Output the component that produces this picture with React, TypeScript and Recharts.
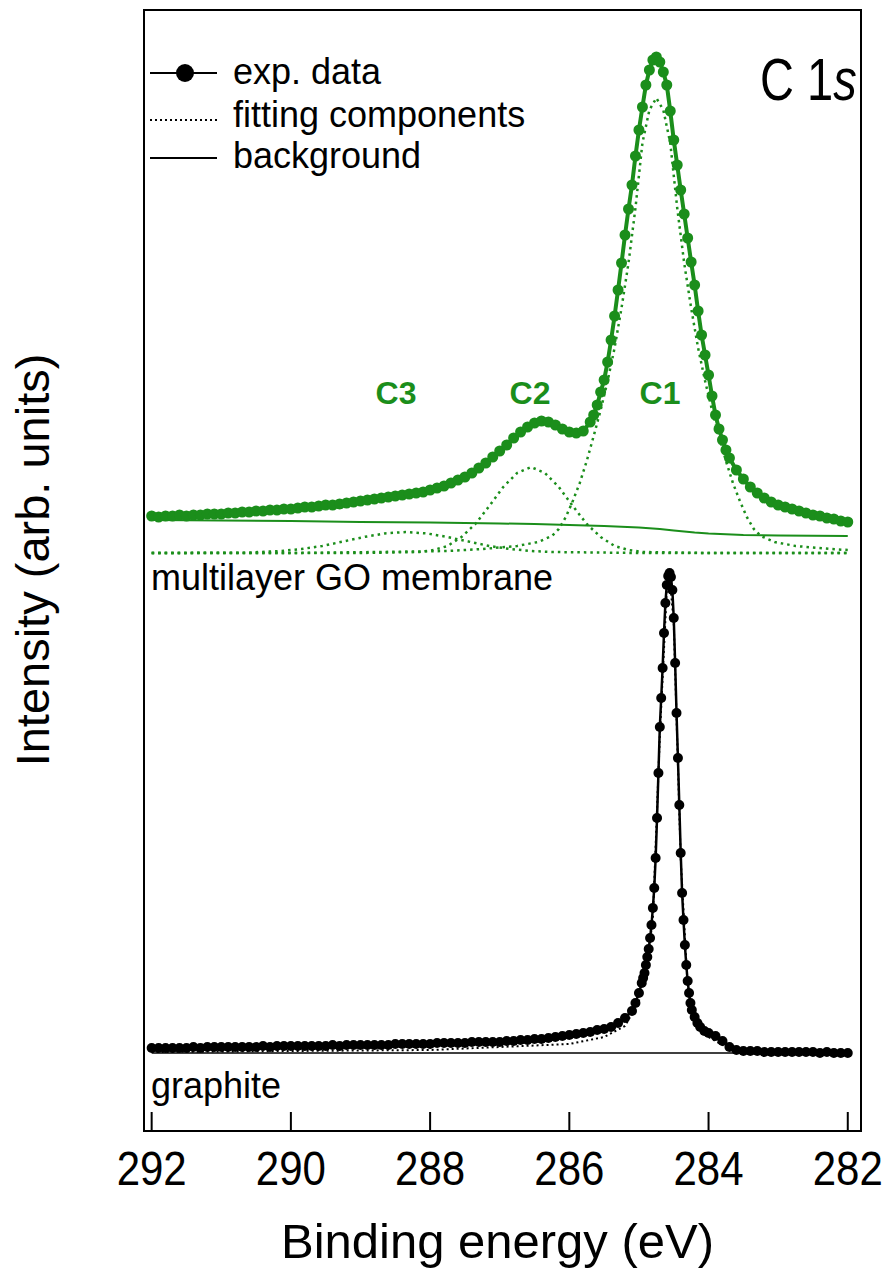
import React from "react";
import { ComposedChart, Line, XAxis, YAxis, Label, ReferenceArea } from "recharts";

// C 1s XPS spectra: multilayer GO membrane (green, offset) and graphite (black)
const GREEN = "#1b8e1b";
const FONT = "'Liberation Sans', Arial, Helvetica, sans-serif";

const xTicks = [292, 290, 288, 286, 284, 282];

// GO membrane, exp. data
const goEnergy = [
  292.0, 291.9, 291.8, 291.7, 291.6, 291.5, 291.4, 291.3, 291.2, 291.1,
  291.0, 290.9, 290.8, 290.7, 290.6, 290.5, 290.4, 290.3, 290.2, 290.1,
  290.0, 289.9, 289.8, 289.7, 289.6, 289.5, 289.4, 289.3, 289.2, 289.1,
  289.0, 288.9, 288.8, 288.7, 288.6, 288.5, 288.4, 288.3, 288.2, 288.1,
  288.0, 287.9, 287.8, 287.7, 287.6, 287.5, 287.4, 287.3, 287.2, 287.1,
  287.0, 286.9, 286.8, 286.7, 286.6, 286.5, 286.4, 286.3, 286.2, 286.1,
  286.0, 285.9, 285.8, 285.7, 285.65, 285.6, 285.55, 285.5, 285.45, 285.4,
  285.35, 285.3, 285.25, 285.2, 285.15, 285.1, 285.05, 285.0, 284.95, 284.9,
  284.85, 284.8, 284.75, 284.7, 284.65, 284.6, 284.55, 284.5, 284.45, 284.4,
  284.35, 284.3, 284.25, 284.2, 284.15, 284.1, 284.05, 284.0, 283.95, 283.9,
  283.85, 283.8, 283.75, 283.7, 283.6, 283.5, 283.4, 283.3, 283.2, 283.1,
  283.0, 282.9, 282.8, 282.7, 282.6, 282.5, 282.4, 282.3, 282.2, 282.1,
  282.0,
];
const goIntensity = [
  615, 614, 615, 615, 616, 615, 616, 616, 617, 617,
  617, 618, 618, 619, 619, 620, 620, 621, 621, 622,
  622, 623, 624, 624, 625, 626, 626, 627, 628, 629,
  630, 631, 632, 633, 634, 635, 636, 637, 638, 639,
  641, 643, 645, 648, 651, 654, 658, 663, 668, 674,
  680, 686, 693, 699, 704, 708, 710, 709, 706, 702,
  699, 698, 700, 709, 716, 726, 739, 751, 769, 791,
  815, 841, 868, 896, 922, 946, 975, 1001, 1024, 1046,
  1061, 1071, 1074, 1069, 1059, 1046, 1020, 991, 966, 941,
  917, 893, 869, 846, 820, 796, 776, 756, 735, 716,
  702, 691, 681, 673, 661, 652, 644, 638, 633, 629,
  626, 624, 622, 620, 618, 616, 615, 613, 612, 610,
  609,
];

// GO membrane, background
const goBgEnergy = [292, 291, 290, 289, 288, 287, 286.5, 286, 285.5, 285, 284.7, 284.5, 284.2, 284, 283.5, 283, 282];
const goBgIntensity = [611, 610.5, 610, 609, 608.5, 607.5, 607, 606, 605, 603.5, 602, 600.5, 598.5, 597.5, 596, 595.5, 595];

// GO membrane, fitting components
const c1Energy = [
  292, 290, 288.75, 287.75, 287.25, 286.75, 286.45, 286.25, 286.15, 286.05,
  285.95, 285.85, 285.75, 285.65, 285.55, 285.45, 285.35, 285.25, 285.15, 285.05,
  284.95, 284.85, 284.75, 284.65, 284.55, 284.45, 284.35, 284.25, 284.15, 284.05,
  283.95, 283.85, 283.75, 283.65, 283.55, 283.45, 283.35, 283.25, 283.05, 282.75,
  282.25, 282,
];
const c1Intensity = [
  578, 578, 579, 580, 582, 585, 589, 595, 602, 614,
  630, 648, 670, 695, 721, 750, 783, 823, 868, 923,
  988, 1021, 1033, 1021, 988, 923, 868, 823, 783, 750,
  721, 695, 670, 648, 630, 614, 602, 595, 589, 585,
  582, 581,
];
const c2Energy = [292, 289, 288.15, 287.95, 287.75, 287.55, 287.35, 287.15, 286.95, 286.75, 286.55, 286.35, 286.15, 285.95, 285.75, 285.55, 285.35, 285.15, 284.95, 284, 282];
const c2Intensity = [578, 578, 579, 581, 585, 594, 607, 625, 644, 658, 664, 658, 644, 625, 607, 594, 585, 581, 579, 578, 578];
const c3Energy = [292, 290.6, 290.45, 290.15, 289.85, 289.55, 289.25, 288.95, 288.65, 288.35, 288.05, 287.75, 287.45, 287.15, 286.85, 286.55, 286.25, 285, 282];
const c3Intensity = [578, 578.3, 579, 580, 582, 585, 589.5, 594, 597.6, 599, 597.6, 594, 589.5, 585, 582, 580, 579, 578, 578];

// graphite, exp. data
const grEnergy = [
  292.0, 291.9, 291.8, 291.7, 291.6, 291.5, 291.4, 291.3, 291.2, 291.1,
  291.0, 290.9, 290.8, 290.7, 290.6, 290.5, 290.4, 290.3, 290.2, 290.1,
  290.0, 289.9, 289.8, 289.7, 289.6, 289.5, 289.4, 289.3, 289.2, 289.1,
  289.0, 288.9, 288.8, 288.7, 288.6, 288.5, 288.4, 288.3, 288.2, 288.1,
  288.0, 287.9, 287.8, 287.7, 287.6, 287.5, 287.4, 287.3, 287.2, 287.1,
  287.0, 286.9, 286.8, 286.7, 286.6, 286.5, 286.4, 286.3, 286.2, 286.1,
  286.0, 285.9, 285.8, 285.7, 285.6, 285.5, 285.4, 285.3, 285.2, 285.1,
  285.05, 285.0,
  284.96, 284.94, 284.92, 284.9, 284.88, 284.86, 284.84, 284.82, 284.8, 284.78,
  284.76, 284.74, 284.72, 284.7, 284.68, 284.66, 284.64, 284.62, 284.6, 284.58,
  284.56, 284.54, 284.52, 284.5, 284.48, 284.46, 284.44, 284.42, 284.4, 284.38,
  284.36, 284.34, 284.32, 284.3, 284.28, 284.26, 284.24, 284.2, 284.16, 284.12,
  284.06, 284.0, 283.9, 283.8, 283.7, 283.6, 283.5, 283.4, 283.3, 283.2,
  283.1, 283.0, 282.9, 282.8, 282.7, 282.6, 282.5, 282.4, 282.3, 282.2,
  282.1, 282.0,
];
const grIntensity = [
  83, 83, 83, 83, 83, 83, 84, 83, 84, 84,
  84, 84, 84, 84, 84, 84, 85, 84, 85, 85,
  85, 85, 85, 85, 85, 85, 86, 85, 86, 86,
  86, 86, 86, 86, 86, 87, 87, 87, 87, 87,
  87, 88, 88, 88, 88, 88, 89, 89, 89, 89,
  89, 90, 90, 91, 91, 92, 92, 93, 94, 95,
  96, 97, 98, 99, 101, 102, 104, 108, 113, 120,
  128, 138,
  148, 153, 158, 166, 174, 182, 193, 206, 223, 243,
  273, 313, 358, 404, 433, 463, 498, 528, 546, 555,
  558, 554, 541, 513, 468, 418, 373, 326, 278, 238,
  211, 186, 166, 150, 138, 128, 121, 114, 108, 104,
  100, 98, 95, 90, 84, 81, 80, 80, 80, 79,
  79, 79, 79, 79, 79, 79, 79, 78, 79, 78,
  78, 78,
];

// graphite, fitting component and background
const grFitEnergy = [292, 288, 286, 285.5, 285.2, 285.0, 284.9, 284.8, 284.7, 284.6, 284.56, 284.5, 284.4, 284.3, 284.2, 284.0, 283.8, 283.5, 282];
const grFitIntensity = [79, 81, 87, 94, 105, 130, 158, 212, 395, 540, 555, 508, 272, 144, 110, 94, 86, 79, 78];
const grBgEnergy = [292, 282];
const grBgIntensity = [78, 78];

const pts = (es: number[], vs: number[]) => es.map((e, i) => ({ e, v: vs[i] }));

const X_DOMAIN: [number, number] = [281.81, 292.11];
const Y_DOMAIN: [number, number] = [0, 1121];

// tick label, slightly taller than plain Arial like the original figure
const EnergyTick = ({ x, y, payload }: any) => (
  <text transform={`translate(${x}, ${y}) scale(1, 1.13)`} textAnchor="middle" dy="0.71em"
    fontSize={42} fontFamily={FONT} fill="#000">
    {payload.value}
  </text>
);

export default function App() {
  const frame = { stroke: "#000", strokeWidth: 2 };
  const dash = "2.5 4";
  return (
    <div style={{ position: "absolute", left: 0, top: 0, width: 884, height: 1275, background: "#fff" }}>
      <ComposedChart width={884} height={1275} margin={{ top: 10, right: 23, bottom: 0, left: 144 }}>
        <XAxis
          xAxisId="b"
          dataKey="e"
          type="number"
          domain={X_DOMAIN}
          reversed
          allowDataOverflow
          ticks={xTicks}
          height={144}
          tickSize={-19}
          tickMargin={39}
          tickLine={frame}
          axisLine={frame}
          tick={<EnergyTick />}
        >
          <Label value="Binding energy (eV)" position="insideBottom" offset={17} dx={-5}
            style={{ fontSize: 49, fontFamily: FONT, fill: "#000" }} />
        </XAxis>
        <YAxis yAxisId="l" type="number" domain={Y_DOMAIN} width={0} hide />

        {/* plot frame */}
        <ReferenceArea xAxisId="b" yAxisId="l" x1={X_DOMAIN[0]} x2={X_DOMAIN[1]} y1={Y_DOMAIN[0]} y2={Y_DOMAIN[1]}
          fill="none" fillOpacity={0} stroke="#000" strokeWidth={2} ifOverflow="visible" />

        {/* GO membrane */}
        <Line xAxisId="b" yAxisId="l" data={pts(c3Energy, c3Intensity)} dataKey="v" type="linear" stroke={GREEN}
          strokeWidth={2.5} strokeDasharray={dash} dot={false} isAnimationActive={false} />
        <Line xAxisId="b" yAxisId="l" data={pts(c2Energy, c2Intensity)} dataKey="v" type="linear" stroke={GREEN}
          strokeWidth={2.5} strokeDasharray={dash} dot={false} isAnimationActive={false} />
        <Line xAxisId="b" yAxisId="l" data={pts(c1Energy, c1Intensity)} dataKey="v" type="linear" stroke={GREEN}
          strokeWidth={2.5} strokeDasharray={dash} dot={false} isAnimationActive={false} />
        <Line xAxisId="b" yAxisId="l" data={pts(goBgEnergy, goBgIntensity)} dataKey="v" type="linear" stroke={GREEN}
          strokeWidth={2} dot={false} isAnimationActive={false} />
        <Line xAxisId="b" yAxisId="l" data={pts(goEnergy, goIntensity)} dataKey="v" type="linear" stroke={GREEN}
          strokeWidth={4} dot={{ r: 5.5, fill: GREEN, stroke: GREEN, strokeWidth: 0 }} isAnimationActive={false} />

        {/* graphite */}
        <Line xAxisId="b" yAxisId="l" data={pts(grBgEnergy, grBgIntensity)} dataKey="v" type="linear" stroke="#000"
          strokeWidth={1.5} dot={false} isAnimationActive={false} />
        <Line xAxisId="b" yAxisId="l" data={pts(grFitEnergy, grFitIntensity)} dataKey="v" type="linear" stroke="#000"
          strokeWidth={2} strokeDasharray="2 3" dot={false} isAnimationActive={false} />
        <Line xAxisId="b" yAxisId="l" data={pts(grEnergy, grIntensity)} dataKey="v" type="linear" stroke="#000"
          strokeWidth={2.5} dot={{ r: 5, fill: "#000", stroke: "#000", strokeWidth: 0 }} isAnimationActive={false} />
      </ComposedChart>

      <svg width={884} height={1275} style={{ position: "absolute", left: 0, top: 0, pointerEvents: "none" }}
        fontFamily={FONT}>
        <text x={49} y={560} fontSize={47} textAnchor="middle" transform="rotate(-90, 49, 560)">Intensity (arb. units)</text>

        {/* legend */}
        <line x1={150} y1={73} x2={217} y2={73} stroke="#000" strokeWidth={2} />
        <circle cx={185} cy={73} r={9} fill="#000" />
        <line x1={150} y1={120} x2={217} y2={120} stroke="#000" strokeWidth={2} strokeDasharray="2 3" />
        <line x1={150} y1={158} x2={217} y2={158} stroke="#000" strokeWidth={2} />
        <text x={233} y={84} fontSize={36}>exp. data</text>
        <text x={233} y={127} fontSize={36}>fitting components</text>
        <text x={233} y={168} fontSize={36}>background</text>

        <text transform="translate(760, 100) scale(1, 1.25)" fontSize={47}>C 1<tspan fontStyle="italic">s</tspan></text>

        <g fill={GREEN} fontSize={32} fontWeight="bold" textAnchor="middle">
          <text x={396} y={404}>C3</text>
          <text x={530} y={404}>C2</text>
          <text x={660} y={404}>C1</text>
        </g>
        <text x={151} y={590} fontSize={36}>multilayer GO membrane</text>
        <text x={151} y={1098} fontSize={36}>graphite</text>
      </svg>
    </div>
  );
}
